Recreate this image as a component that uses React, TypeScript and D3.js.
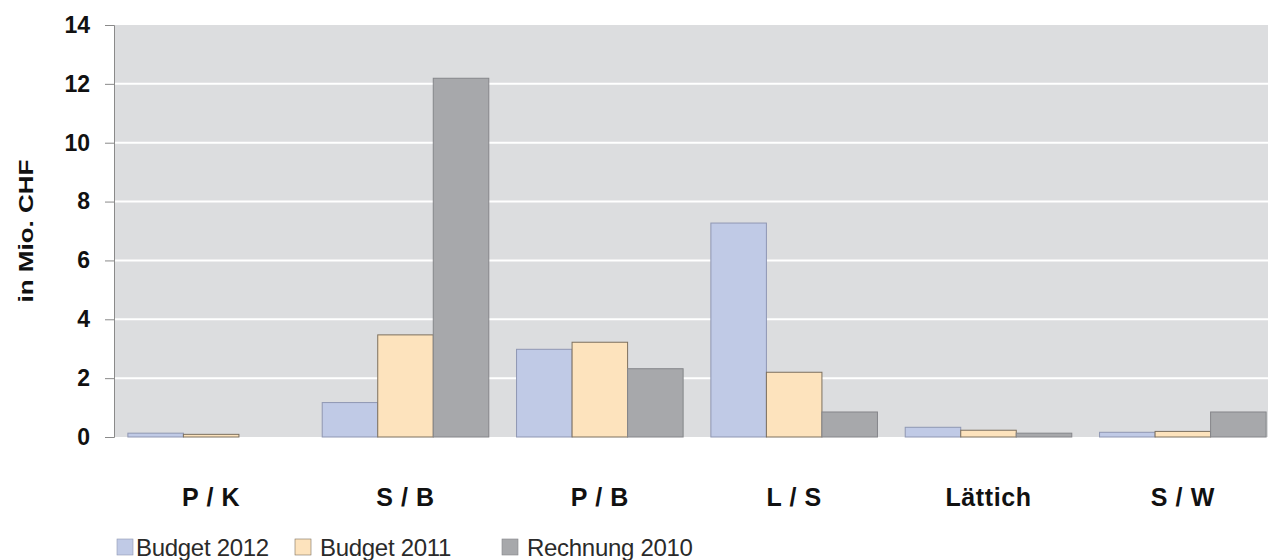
import React, { useRef, useEffect } from 'react';
import * as d3 from 'd3';

const categories = ['P / K', 'S / B', 'P / B', 'L / S', 'Lättich', 'S / W'];
const seriesNames = ['Budget 2012', 'Budget 2011', 'Rechnung 2010'];
const budget2012 = [0.13, 1.17, 2.98, 7.27, 0.33, 0.16];
const budget2011 = [0.09, 3.47, 3.22, 2.2, 0.23, 0.19];
const rechnung2010 = [0, 12.19, 2.32, 0.85, 0.13, 0.85];
const yTicks = [0, 2, 4, 6, 8, 10, 12, 14];

const fills = ['#c0cae6', '#fde3bd', '#a7a8ab'];
const strokes = ['#8f97b3', '#7d705e', '#85868a'];

const W = 1268;
const H = 560;

const drawChart = (svg: d3.Selection<SVGSVGElement, unknown, null, undefined>) => {
    const left = 114;
    const right = 1280;
    const top = 25;
    const bottom = 437;
    const font = '"Liberation Sans", Arial, Helvetica, sans-serif';

    svg.selectAll('*').remove();

    const values = [budget2012, budget2011, rechnung2010];

    const x0 = d3.scaleBand<string>().domain(categories).range([left, right]).padding(0);
    const x1 = d3.scaleBand<string>()
        .domain(seriesNames)
        .range([0, x0.bandwidth()])
        .paddingInner(0)
        .paddingOuter(0.25);
    const y = d3.scaleLinear().domain([0, 14]).range([bottom, top]);

    // plot background
    svg.append('rect')
        .attr('x', left)
        .attr('y', top)
        .attr('width', right - left)
        .attr('height', bottom - top)
        .attr('fill', '#dcdddf');

    // gridlines
    svg.append('g')
        .selectAll('line')
        .data(yTicks.filter(t => t > 0 && t < 14))
        .enter().append('line')
        .attr('x1', left)
        .attr('x2', right)
        .attr('y1', d => y(d))
        .attr('y2', d => y(d))
        .attr('stroke', '#ffffff')
        .attr('stroke-width', 2);

    // bars
    const groups = svg.append('g')
        .selectAll('g')
        .data(categories)
        .enter().append('g')
        .attr('transform', d => `translate(${x0(d)},0)`);

    groups.selectAll('rect')
        .data((_, i) => seriesNames.map((s, j) => ({ s, j, v: values[j][i] })).filter(d => d.v > 0))
        .enter().append('rect')
        .attr('x', d => x1(d.s)!)
        .attr('y', d => y(d.v))
        .attr('width', x1.bandwidth())
        .attr('height', d => bottom - y(d.v))
        .attr('fill', d => fills[d.j])
        .attr('stroke', d => strokes[d.j])
        .attr('stroke-width', 1);

    // y axis
    const yAxis = svg.append('g')
        .attr('transform', `translate(${left},0)`)
        .call(d3.axisLeft(y).tickValues(yTicks).tickSize(9).tickPadding(15).tickFormat(d3.format('d')));
    yAxis.select('.domain').attr('stroke', '#8a8a8a');
    yAxis.selectAll('.tick line').attr('stroke', '#8a8a8a');
    yAxis.selectAll('.tick text')
        .attr('font-family', font)
        .attr('font-size', 23)
        .attr('font-weight', 'bold')
        .attr('fill', '#111');

    // y title
    svg.append('text')
        .attr('transform', 'translate(33,231) rotate(-90)')
        .attr('text-anchor', 'middle')
        .attr('font-family', font)
        .attr('font-size', 20)
        .attr('font-weight', 'bold')
        .attr('textLength', 143)
        .attr('lengthAdjust', 'spacingAndGlyphs')
        .attr('fill', '#111')
        .text('in Mio. CHF');

    // category labels
    svg.append('g')
        .selectAll('text')
        .data(categories)
        .enter().append('text')
        .attr('x', d => x0(d)! + x1('Budget 2011')! + x1.bandwidth() / 2)
        .attr('y', 506)
        .attr('text-anchor', 'middle')
        .attr('font-family', font)
        .attr('font-size', 25)
        .attr('font-weight', 'bold')
        .attr('letter-spacing', 0.6)
        .attr('fill', '#111')
        .text(d => d);

    // legend
    const legendX = [136, 320, 527];
    const legend = svg.append('g')
        .selectAll('g')
        .data(seriesNames)
        .enter().append('g')
        .attr('transform', (_, i) => `translate(${legendX[i]},539)`);
    legend.append('rect')
        .attr('x', (_, i) => (i === 0 ? -19 : -25))
        .attr('width', 16)
        .attr('height', 16)
        .attr('fill', (_, i) => fills[i])
        .attr('stroke', (_, i) => strokes[i])
        .attr('stroke-width', 0.6);
    legend.append('text')
        .attr('x', 0)
        .attr('y', 17)
        .attr('font-family', font)
        .attr('font-size', 24)
        .attr('letter-spacing', -0.3)
        .attr('fill', '#2a2a2a')
        .text(d => d);
};

const App: React.FC = () => {
    const ref = useRef<SVGSVGElement>(null);

    useEffect(() => {
        if (ref.current) {
            drawChart(d3.select(ref.current));
        }
    }, []);

    return (
        <svg
            ref={ref}
            width={W}
            height={H}
            style={{ position: 'absolute', left: 0, top: 0, background: '#ffffff' }}
        />
    );
};

export default App;
